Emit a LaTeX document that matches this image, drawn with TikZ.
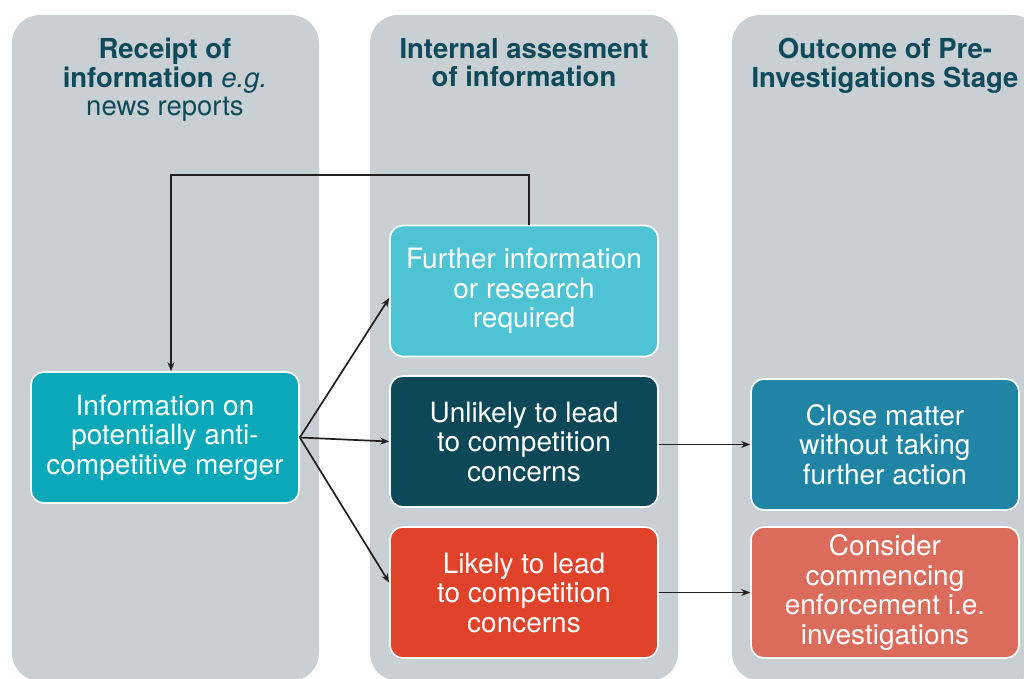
\documentclass[tikz,border=0pt]{standalone}
\usepackage{fontspec}
\setmainfont{TeX Gyre Heros}
\usetikzlibrary{arrows.meta}
\definecolor{colgrey}{HTML}{C9D0D3}
\definecolor{headteal}{HTML}{0E4A5C}
\definecolor{infoteal}{HTML}{0AA8B9}
\definecolor{furtherblue}{HTML}{4EC3D3}
\definecolor{unlikelyteal}{HTML}{0D4858}
\definecolor{likelyred}{HTML}{E1432A}
\definecolor{closeblue}{HTML}{2084A4}
\definecolor{considerred}{HTML}{DB6B5B}
\definecolor{linegrey}{HTML}{231F20}

\begin{document}
\begin{tikzpicture}[x=1pt,y=-1pt,
	column/.style={fill=colgrey,rounded corners=28pt},
	header/.style={anchor=north,align=center,text=headteal,inner sep=0pt,font=\fontsize{27.5}{28.5}\selectfont\bfseries},
	stage/.style={draw=white,line width=1.6pt,rounded corners=13pt,minimum width=268pt,minimum height=131pt,align=center,text=white,font=\fontsize{28}{29.5}\selectfont},
	link/.style={-{Stealth[length=9pt,width=7pt]},line width=1.7pt,draw=linegrey}]
	\useasboundingbox (0,0) rectangle (1024,679);
	\clip (0,0) rectangle (1024,679);
	% columns
	\fill[column] (12,15) rectangle (319,681);
	\fill[column] (370,15) rectangle (678,681);
	\fill[column] (732,15) rectangle (1040,681);
	\node[header] (recvhead) at (165,38) {Receipt of\\information {\mdseries\itshape e.g.}\\{\mdseries news reports}};
	\node[header] (assesshead) at (524,38) {Internal assesment\\of information};
	\node[header] (outhead) at (885,38) {Outcome of Pre-\\Investigations Stage};
	% stages
	\node[stage,fill=infoteal] (info) at (165,437.5) {Information on\\potentially anti-\\competitive merger};
	\node[stage,fill=furtherblue] (further) at (524,291) {Further information\\or research\\required};
	\node[stage,fill=unlikelyteal] (unlikely) at (524,441.5) {Unlikely to lead\\to competition\\concerns};
	\node[stage,fill=likelyred] (likely) at (524,592.5) {Likely to lead\\to competition\\concerns};
	\node[stage,fill=closeblue] (close) at (885,444.5) {Close matter\\without taking\\further action};
	\node[stage,fill=considerred] (consider) at (885,592.5) {Consider\\commencing\\enforcement i.e.\\investigations};
	% links
	\draw[link] ([xshift=5pt]further.north) -- ++(0,-50) -| ([xshift=6pt]info.north);
	\draw[link] (info.east) -- ([yshift=-7pt]further.west);
	\draw[link] (info.east) -- (unlikely.west);
	\draw[link] (info.east) -- ([yshift=10pt]likely.west);
	\draw[link] (unlikely.east |- close.west) -- (close.west);
	\draw[link] (likely.east) -- (consider.west);
\end{tikzpicture}
\end{document}
